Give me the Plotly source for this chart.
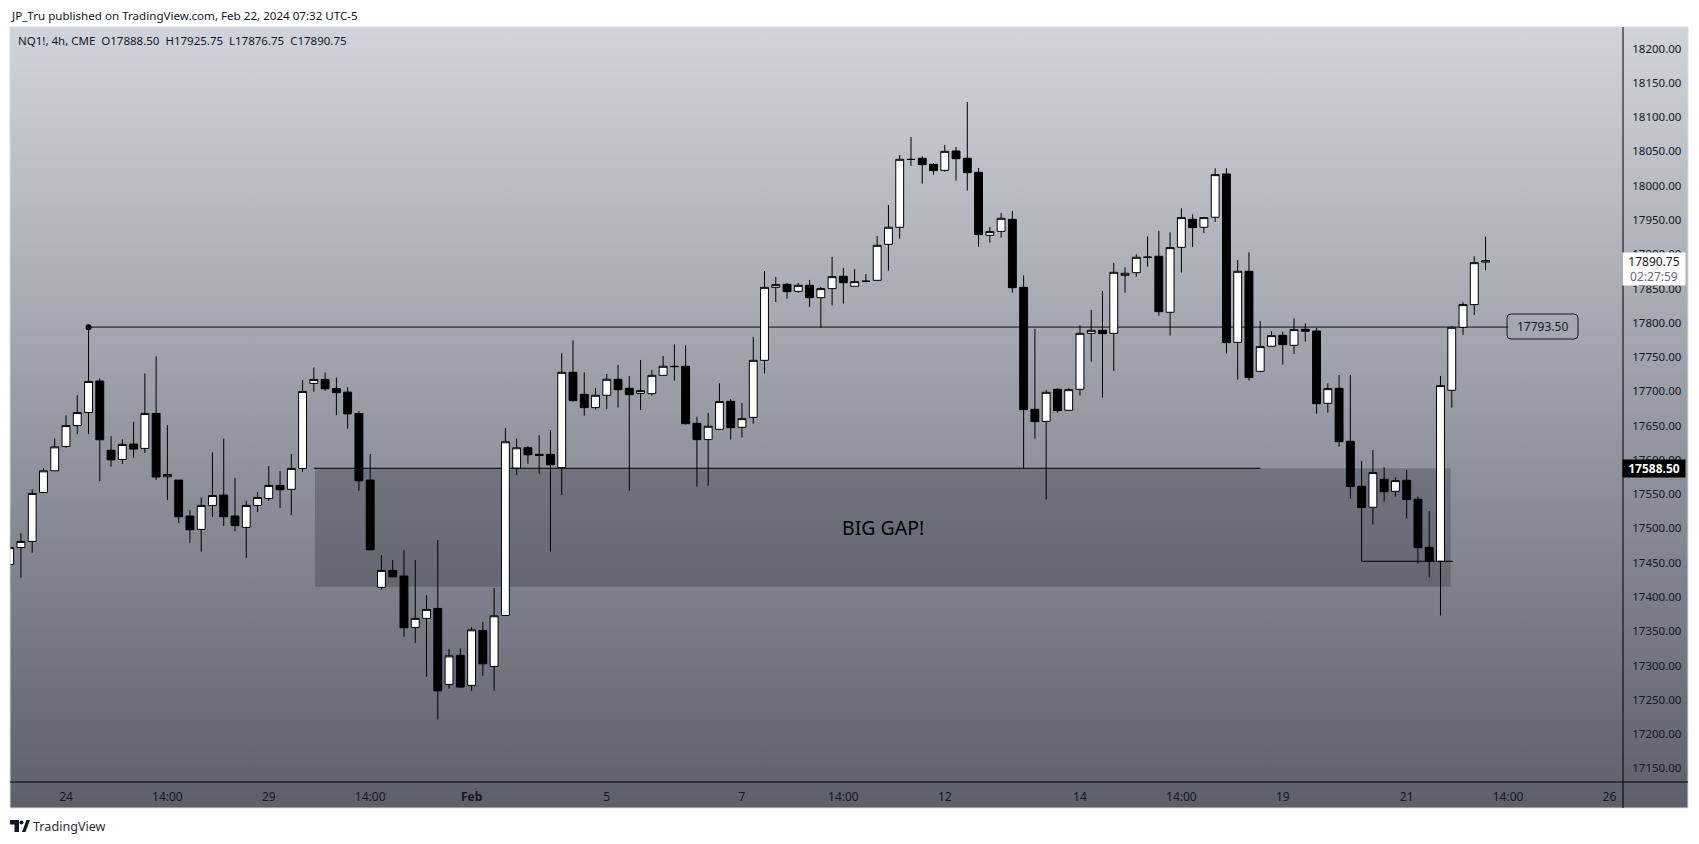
import base64
import plotly.graph_objects as go

WIDTH, HEIGHT = 1699, 844

opens = [17447.4,17472,17481,17552.5,17584,17619.6,17650,17669,17715,17614,17600.6,17623,17616.7,17667.7,17575.3,17570.5,17518,17498.5,17533.5,17548.6,
17518,17501.4,17533.5,17543.7,17562.7,17557,17587.5,17711.5,17717.3,17704,17698.8,17667.7,17570.5,17414,17438.7,17430.4,17355.5,17368.7,17383.2,17272.4,
17314.7,17271,17351,17298.6,17373,17588,17617.6,17608,17608,17588.6,17727.7,17695.6,17676.2,17694.2,17717.5,17704.4,17697,17696.6,17723.3,17736.5,
17736.5,17653.3,17629.5,17644.6,17685.4,17647.5,17662,17745.2,17851.7,17856.1,17845.9,17854.6,17836.6,17849.8,17867.8,17853.2,17860.5,17861.9,17914.4,17939.3,
18038.5,18040,18031.2,18022.4,18050.6,18040,18019.5,17927.6,17933.4,17950.9,17851.7,17673.7,17656.2,17702.9,17672.3,17702.9,17784.6,17789,17784.6,17869.2,
17873.1,17895.5,17897,17815.3,17910.1,17951,17939.3,17953.9,18017.1,17771.5,17875.1,17729.2,17765.7,17781.7,17767.1,17790.5,17788,17682.5,17704.4,17627.1,
17561.4,17530.8,17571.6,17554.1,17570.2,17542.5,17472.4,17452,17701.5,17793.4,17826.5,17888.5]
highs = [17525.7,17492.7,17557,17588,17631,17665,17694.5,17793.7,17718.8,17634.7,17630,17655.6,17726,17751,17650.7,17570.5,17526.7,17545,17611,17631,
17573.4,17540,17553,17591,17583.6,17608.4,17716.4,17734.8,17727.5,17720,17705.7,17671,17608.4,17461,17453.8,17468.3,17453.8,17402.7,17483,17324,
17325,17356,17363.3,17413,17646.3,17631,17620,17636,17643.4,17755.4,17774.4,17727.7,17704.9,17725.3,17738.4,17722.4,17745.7,17731.1,17751.5,17768.5,
17767,17663,17668.4,17711.7,17688.8,17683,17779.3,17875.5,17866.8,17858,17858,17862.4,17852.2,17896,17880,17878.5,17871.2,17926.6,17971.8,18044.8,
18071,18042.8,18033.1,18059.4,18056.5,18122,18025.8,17939.7,17960.2,17963.1,17869.2,17791,17702,17704.4,17704.4,17796.3,17818.7,17846.4,17887.2,17880.9,
17899.9,17926.1,17933.9,17932,17967,17958.2,17953.4,18025.4,18025.4,17891.6,17902.8,17802.6,17787.5,17787,17806.5,17799.2,17792.4,17711.7,17723.8,17723.8,
17598.4,17614.4,17589.2,17574.5,17585.3,17546.8,17525.4,17722.4,17795.3,17829.9,17897,17925.75]
lows = [17409,17428,17464.5,17552,17584,17617.6,17637.6,17637.6,17569,17590,17594,17603,17610,17570.5,17541.3,17508,17479,17466,17516.5,17503.4,
17496,17457,17524,17540,17529.6,17519.4,17582.6,17699.3,17700.8,17665,17645.4,17555,17467.4,17410.5,17429.4,17342,17333,17283.6,17221,17266,
17267.5,17263,17285,17263,17373,17578,17594.3,17579.7,17466,17548.8,17684.9,17664.5,17673.3,17674.2,17676.2,17555.1,17672.8,17693.7,17723.3,17715.5,
17651.4,17561,17562.4,17644.6,17629.5,17632.4,17652.8,17725.8,17830.3,17835.2,17843.9,17823,17792.9,17825,17827.9,17853.2,17860,17861.9,17876,17922.7,
18028.7,18003,18016.1,18020.5,18007.3,17992.8,17911,17916.9,17924.2,17843.9,17587.7,17631,17542,17668.9,17672.3,17693.7,17743.3,17690.8,17729.7,17844,
17867.3,17881.9,17810.4,17781.2,17873.1,17910.6,17931,17947.1,17755,17717,17715.6,17727.7,17765.7,17738.9,17754.5,17772.5,17667.4,17668.9,17619.3,17543.4,
17452,17505.5,17539.1,17546.4,17514.3,17448.6,17428.2,17372.7,17676.2,17782.2,17811.4,17876.75]
closes = [17472,17481,17551,17584,17619,17650,17669,17714.4,17629.3,17600,17622.5,17615.7,17667.7,17575,17578.7,17517,17498,17533.5,17548,17517,
17504,17533.5,17545,17562.7,17556.4,17587.5,17699.8,17717.3,17703.7,17698,17667,17569.5,17468.8,17438.7,17429.4,17355,17368.7,17381.8,17263,17314,
17268.5,17352,17302.5,17372.5,17626.4,17617.6,17607.4,17606.5,17592.8,17727.7,17686.4,17676.2,17694.2,17717.5,17702.4,17695.1,17701,17723.3,17736.5,17736,
17652.8,17629.5,17649,17685,17647,17660.1,17745.2,17851.7,17855.6,17845.4,17854.6,17836.6,17849.8,17867.3,17858.5,17860,17860.6,17913,17939.3,18038.5,
18038.2,18030.7,18022,18050.1,18039.4,18019,17928.6,17933,17952.4,17851.2,17673.3,17655.7,17698.5,17671.8,17702.4,17784.6,17789,17784.1,17873.6,17872.2,
17895.5,17895.7,17816.2,17909.6,17953.4,17938.8,17953.4,18016.1,17771,17875.1,17720,17765.2,17781.2,17768.1,17790,17787.6,17682,17703.9,17626.6,17561,
17530.3,17581.4,17553.6,17569.7,17542,17471.9,17452,17708.3,17793.4,17826.5,17887.7,17890.75]
bars = list(range(len(opens)))

tick_bars = [5, 14, 23, 32, 41, 53, 65, 74, 83, 95, 104, 113, 124, 133, 142]
tick_labels = ["24", "14:00", "29", "14:00", "<b>Feb</b>", "5", "7", "14:00", "12", "14", "14:00", "19", "21", "14:00", "26"]
price_ticks = [17150 + 50 * i for i in range(22)]

level_price = 17793.5
level_bars = [7, 133]
gap_top, gap_bottom = 17587.7, 17415.0
gap_bars = [27.1, 127.9]
gap_line_bars = [27, 111]
low_line_price = 17452.0
low_line_bars = [120, 128.1]

TEXT = "#131722"
FONT = "Noto Sans"

def px(x):
    return x / WIDTH

def py(y):
    return 1 - y / HEIGHT

fig = go.Figure()
fig.add_trace(go.Candlestick(
    x=bars, open=opens, high=highs, low=lows, close=closes,
    increasing=dict(line=dict(color="#000000", width=1), fillcolor="#ffffff"),
    decreasing=dict(line=dict(color="#000000", width=1), fillcolor="#000000"),
    whiskerwidth=0, hoverinfo="skip", showlegend=False,
))
fig.add_trace(go.Scatter(x=level_bars[:1], y=[level_price], mode="markers",
                         marker=dict(color="#000000", size=6), hoverinfo="skip", showlegend=False))
fig.add_trace(go.Scatter(x=low_line_bars, y=[low_line_price] * 2, mode="lines",
                         line=dict(color="#000000", width=1), hoverinfo="skip", showlegend=False))

svg = ('<svg xmlns="http://www.w3.org/2000/svg" width="10" height="100" preserveAspectRatio="none">'
       '<defs><linearGradient id="g" x1="0" y1="0" x2="0" y2="1"><stop offset="0" stop-color="#D1D4DC"/>'
       '<stop offset="1" stop-color="#5D606B"/></linearGradient></defs>'
       '<rect width="10" height="100" fill="url(#g)"/></svg>')
bg = "data:image/svg+xml;base64," + base64.b64encode(svg.encode()).decode()

shapes = [
    dict(type="rect", xref="x", yref="y", x0=gap_bars[0], x1=gap_bars[1], y0=gap_bottom, y1=gap_top,
         fillcolor="rgba(42,46,57,0.30)", line=dict(width=0), layer="below"),
    dict(type="line", xref="x", yref="y", x0=gap_line_bars[0], x1=gap_line_bars[1], y0=gap_top, y1=gap_top,
         line=dict(color="#000000", width=1), layer="below"),
    dict(type="line", xref="x", yref="y", x0=level_bars[0], x1=level_bars[1], y0=level_price, y1=level_price,
         line=dict(color="#4f4f55", width=1.8), layer="below"),
    # chart frame and axis separators
    dict(type="rect", xref="paper", yref="paper", x0=px(10), x1=px(1688), y0=py(808), y1=py(27),
         line=dict(color="#d8dbe3", width=1)),
    dict(type="line", xref="paper", yref="paper", x0=px(10), x1=px(1688), y0=py(782), y1=py(782),
         line=dict(color="#000000", width=1)),
    dict(type="line", xref="paper", yref="paper", x0=px(1623), x1=px(1623), y0=py(808), y1=py(27),
         line=dict(color="#000000", width=1)),
]

def rounded(x0, y0, x1, y1, r):
    a, b, c, d = px(x0), px(x1), py(y0), py(y1)
    rx, ry = r / WIDTH, r / HEIGHT
    return (f"M{a+rx},{c} L{b-rx},{c} Q{b},{c} {b},{c-ry} L{b},{d+ry} Q{b},{d} {b-rx},{d} "
            f"L{a+rx},{d} Q{a},{d} {a},{d+ry} L{a},{c-ry} Q{a},{c} {a+rx},{c} Z")

shapes.append(dict(type="path", xref="paper", yref="paper", path=rounded(1507, 314, 1578, 339, 4),
                   fillcolor="rgba(0,0,0,0)", line=dict(color="#131722", width=1)))

# TradingView logo
def poly(points):
    return "M" + " L".join(f"{px(x)},{py(y)}" for x, y in points) + " Z"

for pts in ([(10, 820), (19, 820), (19, 832), (14.5, 832), (14.5, 824.5), (10, 824.5)],
            [(22, 832), (26.5, 820), (30, 820), (25.5, 832)]):
    shapes.append(dict(type="path", xref="paper", yref="paper", path=poly(pts),
                       fillcolor="#131722", line=dict(width=0)))
shapes.append(dict(type="circle", xref="paper", yref="paper", x0=px(19.5), x1=px(23.5), y0=py(824.5), y1=py(820.5),
                   fillcolor="#131722", line=dict(width=0)))

def text(x, y, s, size=12, color=TEXT, anchor="left", **kw):
    return dict(xref="paper", yref="paper", x=px(x), y=py(y), text=s, showarrow=False, xanchor=anchor,
                yanchor="middle", font=dict(family=FONT, size=size, color=color), borderpad=0, **kw)

annotations = [
    text(10, 15, "JP_Tru published on TradingView.com, Feb 22, 2024 07:32 UTC-5", 11.6),
    text(17, 41, "NQ1!, 4h, CME&nbsp;&nbsp;O17888.50&nbsp;&nbsp;H17925.75&nbsp;&nbsp;L17876.75&nbsp;&nbsp;C17890.75", 11.5),
    text(32, 826, "TradingView", 12.6, "#2a2e39"),
    text(1542.5, 326.5, "17793.50", 12, anchor="center"),
    text(883, 527, "BIG GAP!", 19.5, "#000000", anchor="center"),
    text(1654, 268.5, "17890.75<br><span style='color:#6a6d78'>02:27:59</span>", 12, anchor="center",
         bgcolor="#ffffff", width=62, height=32),
    text(1654, 468.5, "<b>17588.50</b>", 12, "#ffffff", anchor="center", bgcolor="#000000", width=62, height=17),
]

fig.update_layout(
    width=WIDTH, height=HEIGHT, autosize=False,
    margin=dict(l=0, r=0, t=0, b=0),
    paper_bgcolor="#ffffff", plot_bgcolor="rgba(0,0,0,0)",
    font=dict(family=FONT, size=12, color=TEXT),
    showlegend=False, hovermode=False, boxgap=0.3, boxgroupgap=0,
    images=[dict(source=bg, xref="paper", yref="paper", x=px(10), y=py(27), sizex=px(1678), sizey=781 / HEIGHT,
                 xanchor="left", yanchor="top", sizing="stretch", layer="below")],
    shapes=shapes, annotations=annotations,
    xaxis=dict(domain=[px(10), px(1623)], range=[0.03, 143.2], rangeslider=dict(visible=False),
               tickmode="array", tickvals=tick_bars, ticktext=tick_labels, showgrid=False, zeroline=False,
               ticks="outside", ticklen=4, tickcolor="rgba(0,0,0,0)", tickfont=dict(family=FONT, size=12, color=TEXT)),
    yaxis=dict(domain=[py(782), py(27)], range=[17130, 18231.5], side="right",
               tickmode="array", tickvals=price_ticks, ticktext=[f"{p:.2f}" for p in price_ticks],
               showgrid=False, zeroline=False, ticks="outside", ticklen=6, tickcolor="rgba(0,0,0,0)",
               tickfont=dict(family=FONT, size=11.5, color=TEXT)),
)

fig.write_html("out.html", config=dict(displayModeBar=False, staticPlot=True),
               post_script="document.body.style.margin='0';document.body.style.overflow='hidden';")
